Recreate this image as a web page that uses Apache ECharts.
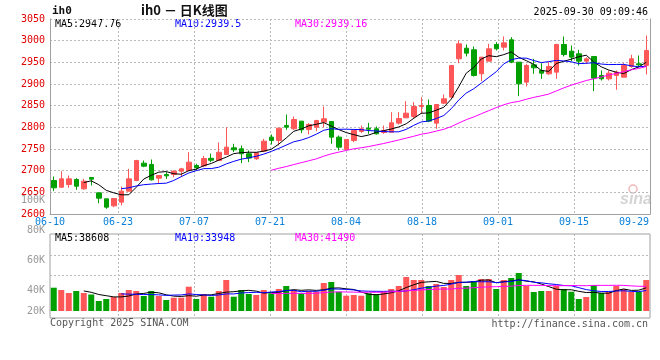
<!DOCTYPE html>
<html><head><meta charset="utf-8">
<script src="https://cdn.jsdelivr.net/npm/echarts@6/dist/echarts.min.js"></script>
<style>html,body{margin:0;padding:0;background:#fff}#c{width:660px;height:360px}</style>
</head><body><div id="c"></div>
<script>
// ---------- data ----------
const dates = ['06-10','06-11','06-12','06-13','06-16','06-17','06-18','06-19','06-20','06-23','06-24','06-25','06-26','06-27','06-30',
'07-01','07-02','07-03','07-04','07-07','07-08','07-09','07-10','07-11','07-14','07-15','07-16','07-17','07-18','07-21','07-22','07-23','07-24','07-25','07-28','07-29','07-30','07-31',
'08-01','08-04','08-05','08-06','08-07','08-08','08-11','08-12','08-13','08-14','08-15','08-18','08-19','08-20','08-21','08-22','08-25','08-26','08-27','08-28','08-29',
'09-01','09-02','09-03','09-04','09-05','09-08','09-09','09-10','09-11','09-12','09-15','09-16','09-17','09-18','09-19','09-22','09-23','09-24','09-25','09-26','09-29'];
const opens = [2677.3,2661.9,2668.1,2679.6,2658.1,2684.2,2648.8,2635.0,2618.8,2627.3,2652.7,2677.3,2717.3,2714.2,2682.7,2691.1,2691.1,2698.8,2700.4,2711.9,
2711.0,2728.5,2723.4,2737.4,2752.7,2750.4,2739.0,2727.4,2745.0,2777.4,2769.7,2804.3,2796.6,2814.3,2795.0,2800.4,2812.0,2813.5,2777.4,2748.9,
2769.7,2790.4,2798.0,2796.6,2788.0,2788.9,2809.7,2822.0,2825.0,2848.1,2850.4,2809.7,2855.8,2869.7,2958.1,2982.7,2978.9,2923.5,2952.7,2991.2,
2985.0,3002.0,2950.4,2904.3,2944.3,2931.2,2923.5,2927.4,2991.2,2975.8,2969.7,2952.7,2963.5,2919.7,2912.0,2919.7,2915.8,2940.4,2946.6,2942.7];
const closes = [2660.4,2681.1,2681.1,2664.2,2675.8,2680.4,2636.5,2615.8,2635.8,2652.7,2681.1,2723.4,2710.4,2678.8,2688.8,2688.0,2698.8,2704.2,2719.6,2707.3,
2728.0,2724.0,2742.4,2754.3,2748.1,2739.0,2729.0,2741.2,2768.1,2769.7,2798.1,2800.4,2818.1,2794.3,2806.6,2815.8,2819.7,2777.4,2754.3,2772.0,
2792.7,2796.6,2795.8,2785.0,2792.7,2810.4,2820.4,2832.7,2848.1,2850.4,2814.3,2852.7,2865.8,2942.7,2992.7,2971.2,2919.7,2962.0,2981.2,2981.2,
2995.0,2950.4,2900.4,2942.7,2937.4,2925.0,2940.4,2991.2,2968.1,2962.0,2952.7,2958.1,2913.5,2912.0,2925.0,2927.4,2942.7,2958.1,2944.3,2977.4];
const lows = [2652.7,2660.4,2660.4,2655.8,2655.8,2665.7,2625.0,2611.9,2615.8,2619.6,2652.7,2675.8,2708.1,2677.3,2669.6,2681.1,2685.0,2685.0,2698.8,2700.4,
2708.1,2719.6,2722.5,2737.4,2742.7,2717.4,2719.7,2725.0,2742.7,2760.4,2758.1,2794.3,2794.3,2786.6,2783.5,2791.2,2800.4,2762.0,2746.6,2748.9,
2765.8,2786.6,2785.0,2783.5,2785.0,2788.9,2806.6,2822.0,2819.7,2831.2,2812.0,2796.6,2854.3,2869.7,2948.1,2963.5,2917.3,2906.6,2952.7,2977.4,
2977.4,2948.1,2872.0,2894.3,2923.5,2911.9,2921.2,2912.0,2963.5,2952.7,2942.7,2946.6,2883.5,2908.1,2908.1,2886.6,2915.8,2937.4,2938.9,2922.0];
const highs = [2686.5,2698.8,2688.8,2682.7,2681.1,2684.2,2648.8,2635.0,2635.8,2663.4,2704.2,2725.0,2723.4,2725.8,2688.8,2696.5,2700.4,2706.6,2742.7,2715.7,
2734.0,2739.5,2765.0,2800.4,2762.0,2758.1,2746.6,2742.7,2773.5,2783.5,2798.1,2829.7,2825.0,2814.3,2809.7,2817.4,2848.1,2813.5,2781.2,2772.0,
2794.3,2804.3,2810.4,2802.0,2804.3,2835.0,2835.0,2860.4,2858.1,2869.7,2864.3,2852.7,2875.8,2942.7,3000.4,2991.2,2986.6,2962.0,2992.7,2996.6,
3009.7,3008.1,2950.4,2946.6,2958.1,2948.1,2950.4,2992.7,3009.7,2988.9,2978.9,2962.0,2963.5,2931.2,2931.2,2931.2,2948.1,2967.4,2965.8,3012.0];
const volumes = [38833,35000,30000,33333,30000,27500,16667,20000,23333,30000,35000,33333,25000,33333,25000,18333,22167,22167,40500,20000,
28333,23833,33333,51667,23833,35000,28333,26667,35000,29500,36667,41667,35000,29500,33333,32167,46667,48333,32167,25500,
26667,25500,29500,28333,32167,36667,41667,56667,51667,51667,41667,45000,40000,51667,60000,41667,50000,53333,53333,36667,
51667,55000,63333,41667,31667,33333,33333,41667,36667,32167,20000,23333,43333,30000,31667,41667,36667,31667,31667,51667];
const priceAxis = {min: 2600, max: 3050, step: 50};
const volLabelValues = [20000, 40000, 60000, 80000, 100000];
const dateLabels = ['06-10','06-23','07-07','07-21','08-04','08-18','09-01','09-15','09-29'];
const priceMaText = ['MA5:2947.76', 'MA10:2939.5', 'MA30:2939.16'];
const volMaText = ['MA5:38608', 'MA10:33948', 'MA30:41490'];
const titleText = 'ih0 － 日K线图';
const symbolText = 'ih0';
const timeText = '2025-09-30 09:09:46';

// ---------- layout / style ----------
const RED = '#ff5757', GREEN = '#00a000', GRID = '#b8b8b8', BORDER = '#a0a0a0';
const MONO = 'DejaVu Sans Mono';
const L = 50, W = 600, mainTop = 19, mainH = 195, volTop = 234, volH = 84;
const volPx = 0.6 / 1000;          // px per volume unit
const volZeroUp = 7;               // bar base above bottom border
const volMin = -volZeroUp / volPx, volMax = volMin + volH / volPx;
const gridFirst = 68, gridStep = 76, gridCount = 7;
const gridPos = Array.from({length: gridCount}, (_, i) => gridFirst + i * gridStep);
const labelPos = [0].concat(gridPos, [W - 16]);
const dotted = [2, 2];

function ma(arr, n) {
  return arr.map((_, i) => {
    if (i < n - 1) return '-';
    let s = 0; for (let j = i - n + 1; j <= i; j++) s += arr[j];
    return +(s / n).toFixed(2);
  });
}
const kData = opens.map((o, i) => [o, closes[i], lows[i], highs[i]]);
const isUp = i => closes[i] >= opens[i];

const chart = echarts.init(document.getElementById('c'), null, {renderer: 'canvas'});
const lineS = (name, data, color, xi, yi) => ({
  type: 'line', name, data, xAxisIndex: xi, yAxisIndex: yi, showSymbol: false, symbol: 'none',
  silent: true, lineStyle: {color, width: 1}, itemStyle: {color}, z: 3
});
const txt = (text, x, y, color, opt) => Object.assign({
  type: 'text', x, y, silent: true,
  style: Object.assign({text, fill: color, font: '10px ' + MONO, textVerticalAlign: 'middle'}, (opt || {}).style || {})
}, opt && opt.extra || {});

chart.setOption({
  animation: false,
  backgroundColor: '#fff',
  grid: [
    {left: L, top: mainTop, width: W, height: mainH, outerBoundsMode: 'none'},
    {left: L, top: volTop, width: W, height: volH, show: true, borderColor: BORDER, borderWidth: 1, backgroundColor: 'transparent', outerBoundsMode: 'none'},
    {left: L, top: 200, width: W, height: 120, outerBoundsMode: 'none'}
  ],
  xAxis: [
    {type: 'category', gridIndex: 0, data: dates, boundaryGap: true,
     axisLine: {show: true, lineStyle: {color: BORDER, width: 1}}, axisTick: {show: false}, axisLabel: {show: false}, splitLine: {show: false}},
    {type: 'value', gridIndex: 0, min: 0, max: W, position: 'bottom',
     axisLine: {show: false}, axisTick: {show: false, customValues: gridPos},
     splitLine: {show: true, lineStyle: {color: GRID, type: dotted, width: 1}},
     axisLabel: {show: true, customValues: labelPos, margin: 3, color: '#0a80d8', fontFamily: MONO, fontSize: 10,
       formatter: v => dateLabels[labelPos.indexOf(v)] || ''}},
    {type: 'category', gridIndex: 1, data: dates, boundaryGap: true,
     axisLine: {show: false}, axisTick: {show: false}, axisLabel: {show: false}, splitLine: {show: false}},
    {type: 'value', gridIndex: 1, min: 0, max: W, position: 'bottom',
     axisLine: {show: false}, axisTick: {show: true, customValues: gridPos, length: 4, lineStyle: {color: GRID, type: dotted}},
     splitLine: {show: true, lineStyle: {color: GRID, type: dotted, width: 1}}, axisLabel: {show: false}},
    {type: 'value', gridIndex: 2, min: 0, max: 1, show: false}
  ],
  yAxis: [
    {type: 'value', gridIndex: 0, min: priceAxis.min, max: priceAxis.max, interval: priceAxis.step, position: 'left',
     axisLine: {show: true, lineStyle: {color: BORDER}}, axisTick: {show: false},
     splitLine: {show: true, showMinLine: false, lineStyle: {color: GRID, type: dotted, width: 1}},
     axisLabel: {color: '#e00000', fontFamily: MONO, fontSize: 10, margin: 5, padding: [0, 0, 4, 0],
       formatter: v => String(v)}},
    {type: 'value', gridIndex: 0, min: priceAxis.min, max: priceAxis.max, position: 'right',
     axisLine: {show: true, lineStyle: {color: BORDER}}, axisTick: {show: false}, axisLabel: {show: false}, splitLine: {show: false}},
    {type: 'value', gridIndex: 1, min: volMin, max: volMax, show: false},
    {type: 'value', gridIndex: 1, min: 0, max: volH, inverse: true, position: 'right',
     axisLine: {show: false}, axisTick: {show: false, customValues: [21, 41]}, axisLabel: {show: false},
     splitLine: {show: true, lineStyle: {color: GRID, type: dotted, width: 1}}},
    {type: 'value', gridIndex: 2, min: 20000, max: 100000, interval: 20000, position: 'left',
     axisLine: {show: false}, axisTick: {show: false}, splitLine: {show: false},
     axisLabel: {color: '#999', fontFamily: MONO, fontSize: 10, margin: 5,
       formatter: v => v === volLabelValues[0] ? '{lo|' + (v / 1000) + 'K}' : (v / 1000) + 'K',
       rich: {lo: {color: '#999', fontFamily: MONO, fontSize: 10, padding: [0, 0, 18, 0]}}}}
  ],
  series: [
    {type: 'candlestick', name: 'K', xAxisIndex: 0, yAxisIndex: 0, data: kData, barWidth: 5, silent: true,
     itemStyle: {color: RED, color0: GREEN, borderColor: RED, borderColor0: GREEN, borderWidth: 1}, z: 2},
    lineS('MA5', ma(closes, 5), '#000000', 0, 0),
    lineS('MA10', ma(closes, 10), '#0000ff', 0, 0),
    lineS('MA30', ma(closes, 30), '#ff00ff', 0, 0),
    {type: 'bar', name: 'VOL', xAxisIndex: 2, yAxisIndex: 2, data: volumes, barWidth: 6, silent: true,
     itemStyle: {color: p => isUp(p.dataIndex) ? RED : GREEN}, z: 2},
    lineS('VMA5', ma(volumes, 5), '#000000', 2, 2),
    lineS('VMA10', ma(volumes, 10), '#0000ff', 2, 2),
    lineS('VMA30', ma(volumes, 30), '#ff00ff', 2, 2)
  ],
  graphic: [
    txt(symbolText, 52, 11, '#111', {style: {font: 'bold 11px ' + MONO}}),
    txt(titleText, 141, 10, '#111', {style: {font: 'bold 13px "Noto Sans CJK SC"'}}),
    txt(timeText, 648, 12, '#000', {style: {textAlign: 'right'}}),
    txt(priceMaText[0], 55, 24, '#000'),
    txt(priceMaText[1], 175, 24, '#0000ff'),
    txt(priceMaText[2], 295, 24, '#ff00ff'),
    txt(volMaText[0], 55, 238.5, '#000'),
    txt(volMaText[1], 175, 238.5, '#0000ff'),
    txt(volMaText[2], 295, 238.5, '#ff00ff'),
    txt('Copyright 2025 SINA.COM', 50, 323.5, '#555'),
    txt('http://finance.sina.com.cn', 648, 324, '#555', {style: {textAlign: 'right'}}),
    {type: 'circle', silent: true, shape: {cx: 633, cy: 189, r: 4}, style: {fill: 'none', stroke: '#f2b8b8', lineWidth: 1.5}},
    txt('sina', 620, 200, '#d4d4d4', {style: {font: 'italic bold 16px "Liberation Sans"'}})
  ]
});
</script></body></html>
